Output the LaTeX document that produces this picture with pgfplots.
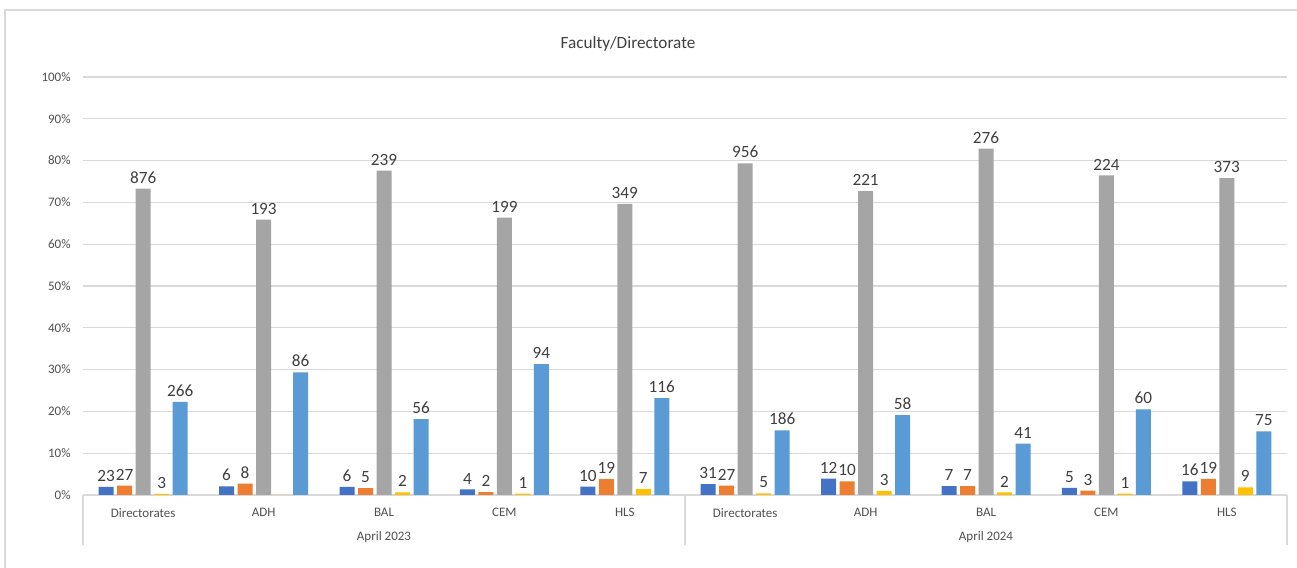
\documentclass[border=0pt]{standalone}
\usepackage{pgfplots}
\pgfplotsset{compat=1.18}
\usepackage{pgfplotstable}
\usepackage{fontspec}
\setmainfont{Carlito}

\definecolor{sBlue}{HTML}{4472C4}
\definecolor{sOrange}{HTML}{ED7D31}
\definecolor{sGray}{HTML}{A5A5A5}
\definecolor{sYellow}{HTML}{FFC000}
\definecolor{sLight}{HTML}{5B9BD5}
\definecolor{gridc}{HTML}{D9D9D9}
\definecolor{labc}{HTML}{404040}
\definecolor{tickc}{HTML}{505050}

% share of each response within a group (%) and the matching head counts
\pgfplotstableread{
x  p1    p2    p3     p4    p5     c1 c2 c3  c4 c5
0  1.925 2.259 73.31  0.251 22.26  23 27 876 3  266
1  2.048 2.730 65.87  0     29.35  6  8  193 0  86
2  1.948 1.623 77.60  0.649 18.18  6  5  239 2  56
3  1.333 0.667 66.33  0.333 31.33  4  2  199 1  94
4  1.996 3.792 69.66  1.397 23.15  10 19 349 7  116
5  2.573 2.241 79.34  0.415 15.44  31 27 956 5  186
6  3.947 3.289 72.70  0.987 19.08  12 10 221 3  58
7  2.102 2.102 82.88  0.601 12.31  7  7  276 2  41
8  1.706 1.024 76.45  0.341 20.48  5  3  224 1  60
9  3.252 3.862 75.81  1.829 15.24  16 19 373 9  75
}\shares

\begin{document}
\begin{tikzpicture}
\useasboundingbox (0pt,0pt) rectangle (648.5pt,284pt);
\fill[white] (0pt,0pt) rectangle (648.5pt,284pt);
% chart frame
\draw[gridc, line width=0.6pt] (2.5pt,-10pt) -- (2.5pt,279pt) -- (660pt,279pt);
% title
\node[font=\fontsize{8.6}{10}\selectfont, text=labc] at (314pt,262pt) {Faculty/Directorate};

\begin{axis}[
  at={(41.5pt,36.5pt)}, anchor=south west,
  scale only axis, width=602pt, height=209pt,
  xmin=-0.5, xmax=9.5, ymin=0, ymax=100,
  enlargelimits=false,
  ybar=1.75pt, bar width=7.5pt,
  axis line style={draw=none},
  ytick={0,10,...,100},
  yticklabels={0\%,10\%,20\%,30\%,40\%,50\%,60\%,70\%,80\%,90\%,100\%},
  xtick={0,...,9},
  xticklabels={Directorates,ADH,BAL,CEM,HLS,Directorates,ADH,BAL,CEM,HLS},
  major tick length=0pt,
  ymajorgrids, grid style={gridc, line width=0.6pt},
  tick label style={font=\fontsize{6.5}{8}\selectfont, text=tickc, inner sep=0pt},
  yticklabel style={xshift=-6pt},
  xticklabel style={yshift=-6.5pt},
  clip=false,
  point meta=explicit symbolic,
  nodes near coords={\ifnum\pgfplotspointmeta>0 \pgfplotspointmeta\fi},
  every node near coord/.append style={font=\fontsize{8.6}{10}\selectfont, text=labc, inner sep=2.5pt},
]
\addplot[fill=sBlue, draw=none]   table[x=x, y=p1, meta=c1] {\shares};
\addplot[fill=sOrange, draw=none] table[x=x, y=p2, meta=c2] {\shares};
\addplot[fill=sGray, draw=none]   table[x=x, y=p3, meta=c3] {\shares};
\addplot[fill=sYellow, draw=none] table[x=x, y=p4, meta=c4] {\shares};
\addplot[fill=sLight, draw=none]  table[x=x, y=p5, meta=c5] {\shares};

% two-level category axis
\draw[gridc, line width=0.6pt] (axis cs:-0.5,0) -- ++(0pt,-25pt);
\draw[gridc, line width=0.6pt] (axis cs:4.5,0) -- ++(0pt,-25pt);
\draw[gridc, line width=0.6pt] (axis cs:9.5,0) -- ++(0pt,-25pt);
\node[font=\fontsize{6.5}{8}\selectfont, text=tickc, yshift=-21pt] at (axis cs:2,0) {April 2023};
\node[font=\fontsize{6.5}{8}\selectfont, text=tickc, yshift=-21pt] at (axis cs:7,0) {April 2024};
\end{axis}
\end{tikzpicture}
\end{document}
